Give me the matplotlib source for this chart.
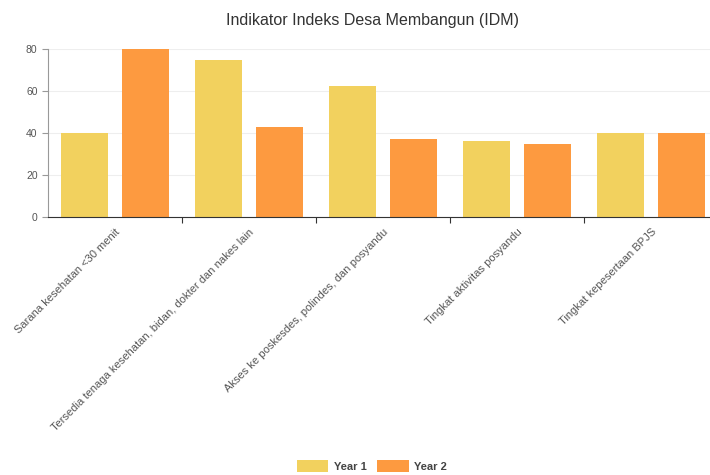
import numpy as np
import matplotlib
matplotlib.use('Agg')
import matplotlib.pyplot as plt

plt.rcParams['font.family'] = ['Liberation Sans', 'DejaVu Sans']

# data
categories = [
    'Sarana kesehatan <30 menit',
    'Tersedia tenaga kesehatan, bidan, dokter dan nakes lain',
    'Akses ke poskesdes, polindes, dan posyandu',
    'Tingkat aktivitas posyandu',
    'Tingkat kepesertaan BPJS',
]
year1 = [40, 75, 62.5, 36, 40]
year2 = [80, 43, 37, 35, 40]
series_names = ['Year 1', 'Year 2']
colors = ['#f2d15e', '#fd9a40']

fig = plt.figure(figsize=(7.1, 4.75), dpi=100)
ax = fig.add_axes([48 / 710, 1 - 217 / 475, 670 / 710, 168 / 475])

x = np.arange(len(categories))
w = 0.35
off = 0.23
ax.bar(x - off, year1, w, color=colors[0], label=series_names[0], zorder=2)
ax.bar(x + off, year2, w, color=colors[1], label=series_names[1], zorder=2)

ax.set_xlim(-0.5, len(categories) - 0.5)
ax.set_ylim(0, 80)
ax.set_yticks([0, 20, 40, 60, 80])
ax.grid(axis='y', color='#eeeeee', linewidth=0.8, zorder=0)

for s in ['top', 'right']:
    ax.spines[s].set_visible(False)
ax.spines['left'].set_color('#999999')
ax.spines['bottom'].set_color('#333333')

ax.set_xticks(x[:-1] + 0.5)
ax.set_xticklabels([])
ax.tick_params(axis='x', which='major', length=4, color='#333333')
ax.set_xticks(x, minor=True)
ax.set_xticklabels(categories, minor=True, rotation=45, ha='right',
                   rotation_mode='anchor', fontsize=8, color='#555555')
ax.tick_params(axis='x', which='minor', length=0, pad=7)
ax.tick_params(axis='y', labelsize=7.5, labelcolor='#555555', color='#999999', length=4)

fig.text(372 / 710, 1 - 20 / 475, 'Indikator Indeks Desa Membangun (IDM)',
         ha='center', va='center', fontsize=11.5, color='#333333')

leg = fig.legend(loc='center', bbox_to_anchor=(372 / 710, 1 - 466 / 475), ncol=2,
                 frameon=False, fontsize=8, handlelength=2.8, handleheight=1.2,
                 columnspacing=1.0, handletextpad=0.5)
for t in leg.get_texts():
    t.set_fontweight('bold')
    t.set_color('#444444')

fig.savefig('out.png', dpi=100)
